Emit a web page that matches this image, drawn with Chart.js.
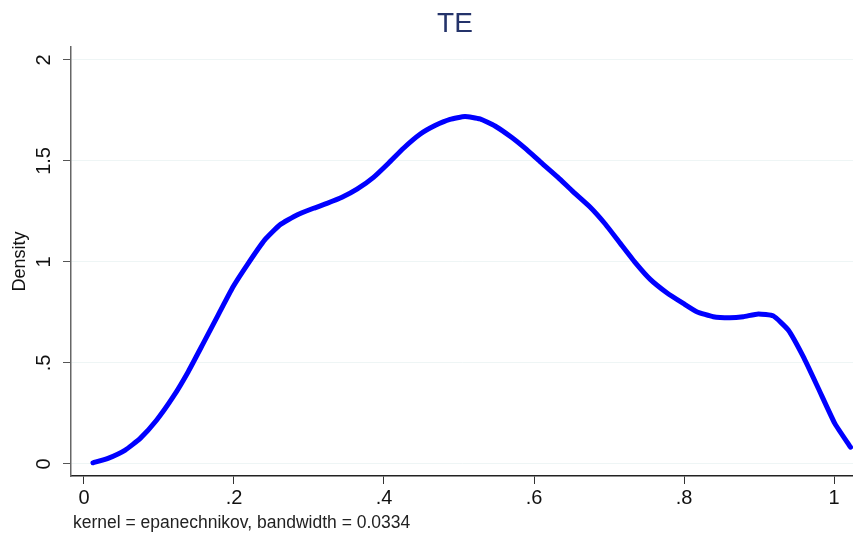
<!DOCTYPE html>
<html>
<head>
<meta charset="utf-8">
<script src="https://cdn.jsdelivr.net/npm/chart.js@4"></script>
<style>
html,body{margin:0;padding:0;background:#fff;}
#wrap{width:853px;height:534px;}
</style>
</head>
<body>
<div id="wrap"><canvas id="c" width="853" height="534"></canvas></div>
<script>
const titleText = "TE";
const yTitle = "Density";
const note = "kernel = epanechnikov, bandwidth = 0.0334";
const xTicks = [0, 0.2, 0.4, 0.6, 0.8, 1];
const xTickLabels = ["0", ".2", ".4", ".6", ".8", "1"];
const yTicks = [0, 0.5, 1, 1.5, 2];
const yTickLabels = ["0", ".5", "1", "1.5", "2"];
const xs = [0.012, 0.032, 0.055, 0.075, 0.097, 0.119, 0.139, 0.159, 0.179, 0.199,
            0.219, 0.241, 0.261, 0.284, 0.306, 0.324, 0.344, 0.364, 0.386, 0.406,
            0.426, 0.448, 0.468, 0.488, 0.508, 0.528, 0.548, 0.570, 0.588, 0.608,
            0.632, 0.652, 0.675, 0.695, 0.715, 0.735, 0.755, 0.777, 0.799, 0.817,
            0.839, 0.861, 0.879, 0.899, 0.919, 0.939, 0.959, 0.979, 1.001, 1.022];
const density = [0.006, 0.028, 0.069, 0.127, 0.218, 0.333, 0.457, 0.597, 0.738, 0.878,
                 0.993, 1.109, 1.183, 1.233, 1.266, 1.290, 1.320, 1.360, 1.419, 1.489,
                 1.563, 1.632, 1.675, 1.706, 1.720, 1.708, 1.673, 1.617, 1.563, 1.497,
                 1.419, 1.348, 1.271, 1.188, 1.092, 0.997, 0.914, 0.848, 0.795, 0.754,
                 0.729, 0.724, 0.729, 0.743, 0.733, 0.663, 0.531, 0.375, 0.201, 0.083];

const FONT = "'Liberation Sans', Arial, sans-serif";

const decor = {
  id: 'decor',
  afterDraw(chart) {
    const ctx = chart.ctx;
    const y = chart.scales.y;
    ctx.save();
    // title
    ctx.fillStyle = '#24336a';
    ctx.font = "28px " + FONT;
    ctx.textAlign = 'center';
    ctx.textBaseline = 'middle';
    ctx.fillText(titleText, 455, 24);
    // y tick labels, rotated
    ctx.fillStyle = '#111';
    ctx.font = "20px " + FONT;
    yTicks.forEach((v, i) => {
      const py = y.getPixelForValue(v);
      ctx.save();
      ctx.translate(44, py);
      ctx.rotate(-Math.PI / 2);
      ctx.textAlign = 'center';
      ctx.textBaseline = 'middle';
      ctx.fillText(yTickLabels[i], 0, 0);
      ctx.restore();
    });
    // y title
    ctx.save();
    ctx.font = "18px " + FONT;
    ctx.translate(20, (chart.chartArea.top + chart.chartArea.bottom) / 2);
    ctx.rotate(-Math.PI / 2);
    ctx.textAlign = 'center';
    ctx.textBaseline = 'middle';
    ctx.fillText(yTitle, 0, 0);
    ctx.restore();
    // note
    ctx.font = "17.5px " + FONT;
    ctx.textAlign = 'left';
    ctx.textBaseline = 'middle';
    ctx.fillStyle = '#222';
    ctx.fillText(note, 73, 523);
    ctx.restore();
  }
};

new Chart(document.getElementById('c'), {
  type: 'line',
  data: {
    datasets: [{
      data: xs.map((x, i) => ({ x: x, y: density[i] })),
      borderColor: '#0000ff',
      borderWidth: 5,
      pointRadius: 0,
      tension: 0.15,
      fill: false,
      borderCapStyle: 'round',
      borderJoinStyle: 'round'
    }]
  },
  options: {
    responsive: false,
    devicePixelRatio: 1,
    animation: false,
    layout: { padding: { top: 47, right: 0, left: 0, bottom: 0 } },
    plugins: { legend: { display: false }, title: { display: false }, tooltip: { enabled: false } },
    scales: {
      x: {
        type: 'linear',
        min: -0.0173,
        max: 1.0253,
        afterBuildTicks: s => { s.ticks = xTicks.map(v => ({ value: v })); },
        afterFit: s => { s.height = 58; },
        ticks: {
          callback: (v) => { const i = xTicks.indexOf(v); return i >= 0 ? xTickLabels[i] : ''; },
          font: { family: FONT, size: 20 },
          color: '#111',
          padding: 2,
          maxRotation: 0,
          autoSkip: false
        },
        grid: { display: true, drawOnChartArea: false, tickLength: 8, tickColor: '#333', tickWidth: 1 },
        border: { color: '#222', width: 1.5 }
      },
      y: {
        type: 'linear',
        min: -0.0594,
        max: 2.064,
        afterBuildTicks: s => { s.ticks = yTicks.map(v => ({ value: v })); },
        afterFit: s => { s.width = 71; },
        ticks: { display: false },
        grid: { display: true, color: '#eef5f5', lineWidth: 1, tickLength: 8, tickColor: '#555', tickWidth: 1 },
        border: { color: '#666', width: 1.5 }
      }
    }
  },
  plugins: [decor]
});
</script>
</body>
</html>
